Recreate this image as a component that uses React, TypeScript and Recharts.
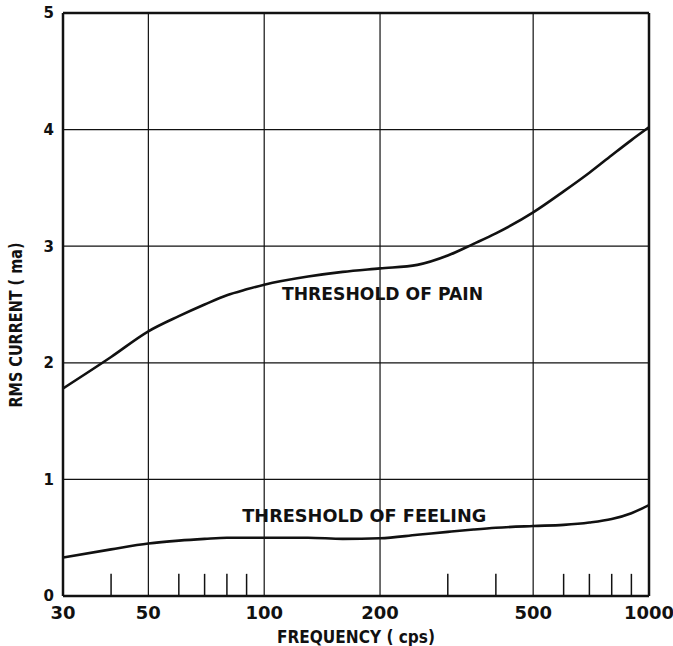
import { LineChart, Line, XAxis, YAxis, CartesianGrid, ReferenceLine, ReferenceDot, Label } from 'recharts';

// frequency (cps) and RMS current (ma)
const FREQ = [30, 40, 50, 60, 70, 80, 90, 100, 130, 160, 200, 250, 300, 350, 400, 500, 600, 700, 800, 900, 1000];
const PAIN = [1.78, 2.05, 2.27, 2.4, 2.5, 2.58, 2.63, 2.67, 2.74, 2.78, 2.81, 2.84, 2.92, 3.02, 3.11, 3.29, 3.47, 3.63, 3.78, 3.91, 4.02];
const FEELING = [0.33, 0.4, 0.45, 0.475, 0.49, 0.5, 0.5, 0.5, 0.5, 0.49, 0.495, 0.525, 0.55, 0.57, 0.585, 0.6, 0.61, 0.63, 0.66, 0.71, 0.78];

const X_TICKS = [30, 50, 100, 200, 500, 1000];
const MINOR_TICKS = [40, 60, 70, 80, 90, 300, 400, 600, 700, 800, 900];
const Y_TICKS = [0, 1, 2, 3, 4, 5];

const CURVE_LABELS = [
  { f: 203, v: 2.54, text: 'THRESHOLD OF PAIN', len: 201 },
  { f: 182, v: 0.635, text: 'THRESHOLD OF FEELING', len: 244 },
];

const data = FREQ.map((f, i) => ({ f, pain: PAIN[i], feeling: FEELING[i] }));

const FONT = "'DejaVu Sans', sans-serif";
const INK = '#111';

function CurveLabel({ viewBox, text, len }: any) {
  const cx = viewBox.x + (viewBox.width || 0) / 2;
  const cy = viewBox.y + (viewBox.height || 0) / 2;
  return (
    <text x={cx} y={cy} textAnchor="middle" fontFamily={FONT} fontWeight="bold" fontSize={18} fill={INK}
      textLength={len} lengthAdjust="spacingAndGlyphs">
      {text}
    </text>
  );
}

export default function App() {
  return (
    <div style={{ position: 'absolute', left: 0, top: 0, background: '#fff' }}>
      <LineChart width={673} height={646} data={data} margin={{ top: 13, right: 24, bottom: 0, left: 0 }}>
        <CartesianGrid stroke={INK} strokeWidth={1.2} />
        <XAxis
          dataKey="f"
          type="number"
          scale="log"
          domain={[30, 1000]}
          ticks={X_TICKS}
          allowDataOverflow
          height={50}
          tickLine={false}
          tickMargin={4}
          axisLine={{ stroke: INK, strokeWidth: 2.5 }}
          tick={{ fill: INK, fontFamily: FONT, fontWeight: 'bold', fontSize: 18 }}
        >
          <Label
            content={({ viewBox }: any) => (
              <text x={viewBox.x + viewBox.width / 2} y={viewBox.y + 47} textAnchor="middle" fontFamily={FONT}
                fontWeight="bold" fontSize={17} fill={INK} textLength={158} lengthAdjust="spacingAndGlyphs">
                FREQUENCY ( cps)
              </text>
            )}
          />
        </XAxis>
        <YAxis
          type="number"
          domain={[0, 5]}
          ticks={Y_TICKS}
          width={63}
          tickLine={false}
          tickMargin={3}
          axisLine={{ stroke: INK, strokeWidth: 2.5 }}
          tick={{ fill: INK, fontFamily: FONT, fontWeight: 'bold', fontSize: 15 }}
        >
          <Label
            content={() => (
              <text x={22} y={325} transform="rotate(-90 22 325)" textAnchor="middle" fontFamily={FONT}
                fontWeight="bold" fontSize={17} fill={INK} textLength={165} lengthAdjust="spacingAndGlyphs">
                RMS  CURRENT ( ma)
              </text>
            )}
          />
        </YAxis>
        <ReferenceLine y={5} stroke={INK} strokeWidth={2.5} />
        <ReferenceLine x={1000} stroke={INK} strokeWidth={2.5} />
        {MINOR_TICKS.map((t) => (
          <ReferenceLine key={t} segment={[{ x: t, y: 0 }, { x: t, y: 0.19 }]} stroke={INK} strokeWidth={1.5} />
        ))}
        <Line type="monotone" dataKey="pain" stroke={INK} strokeWidth={2.6} dot={false} isAnimationActive={false} />
        <Line type="monotone" dataKey="feeling" stroke={INK} strokeWidth={2.6} dot={false} isAnimationActive={false} />
        {CURVE_LABELS.map((l) => (
          <ReferenceDot key={l.text} x={l.f} y={l.v} r={0} stroke="none" fill="none"
            label={{ content: (p: any) => <CurveLabel {...p} text={l.text} len={l.len} /> }} />
        ))}
      </LineChart>
    </div>
  );
}
